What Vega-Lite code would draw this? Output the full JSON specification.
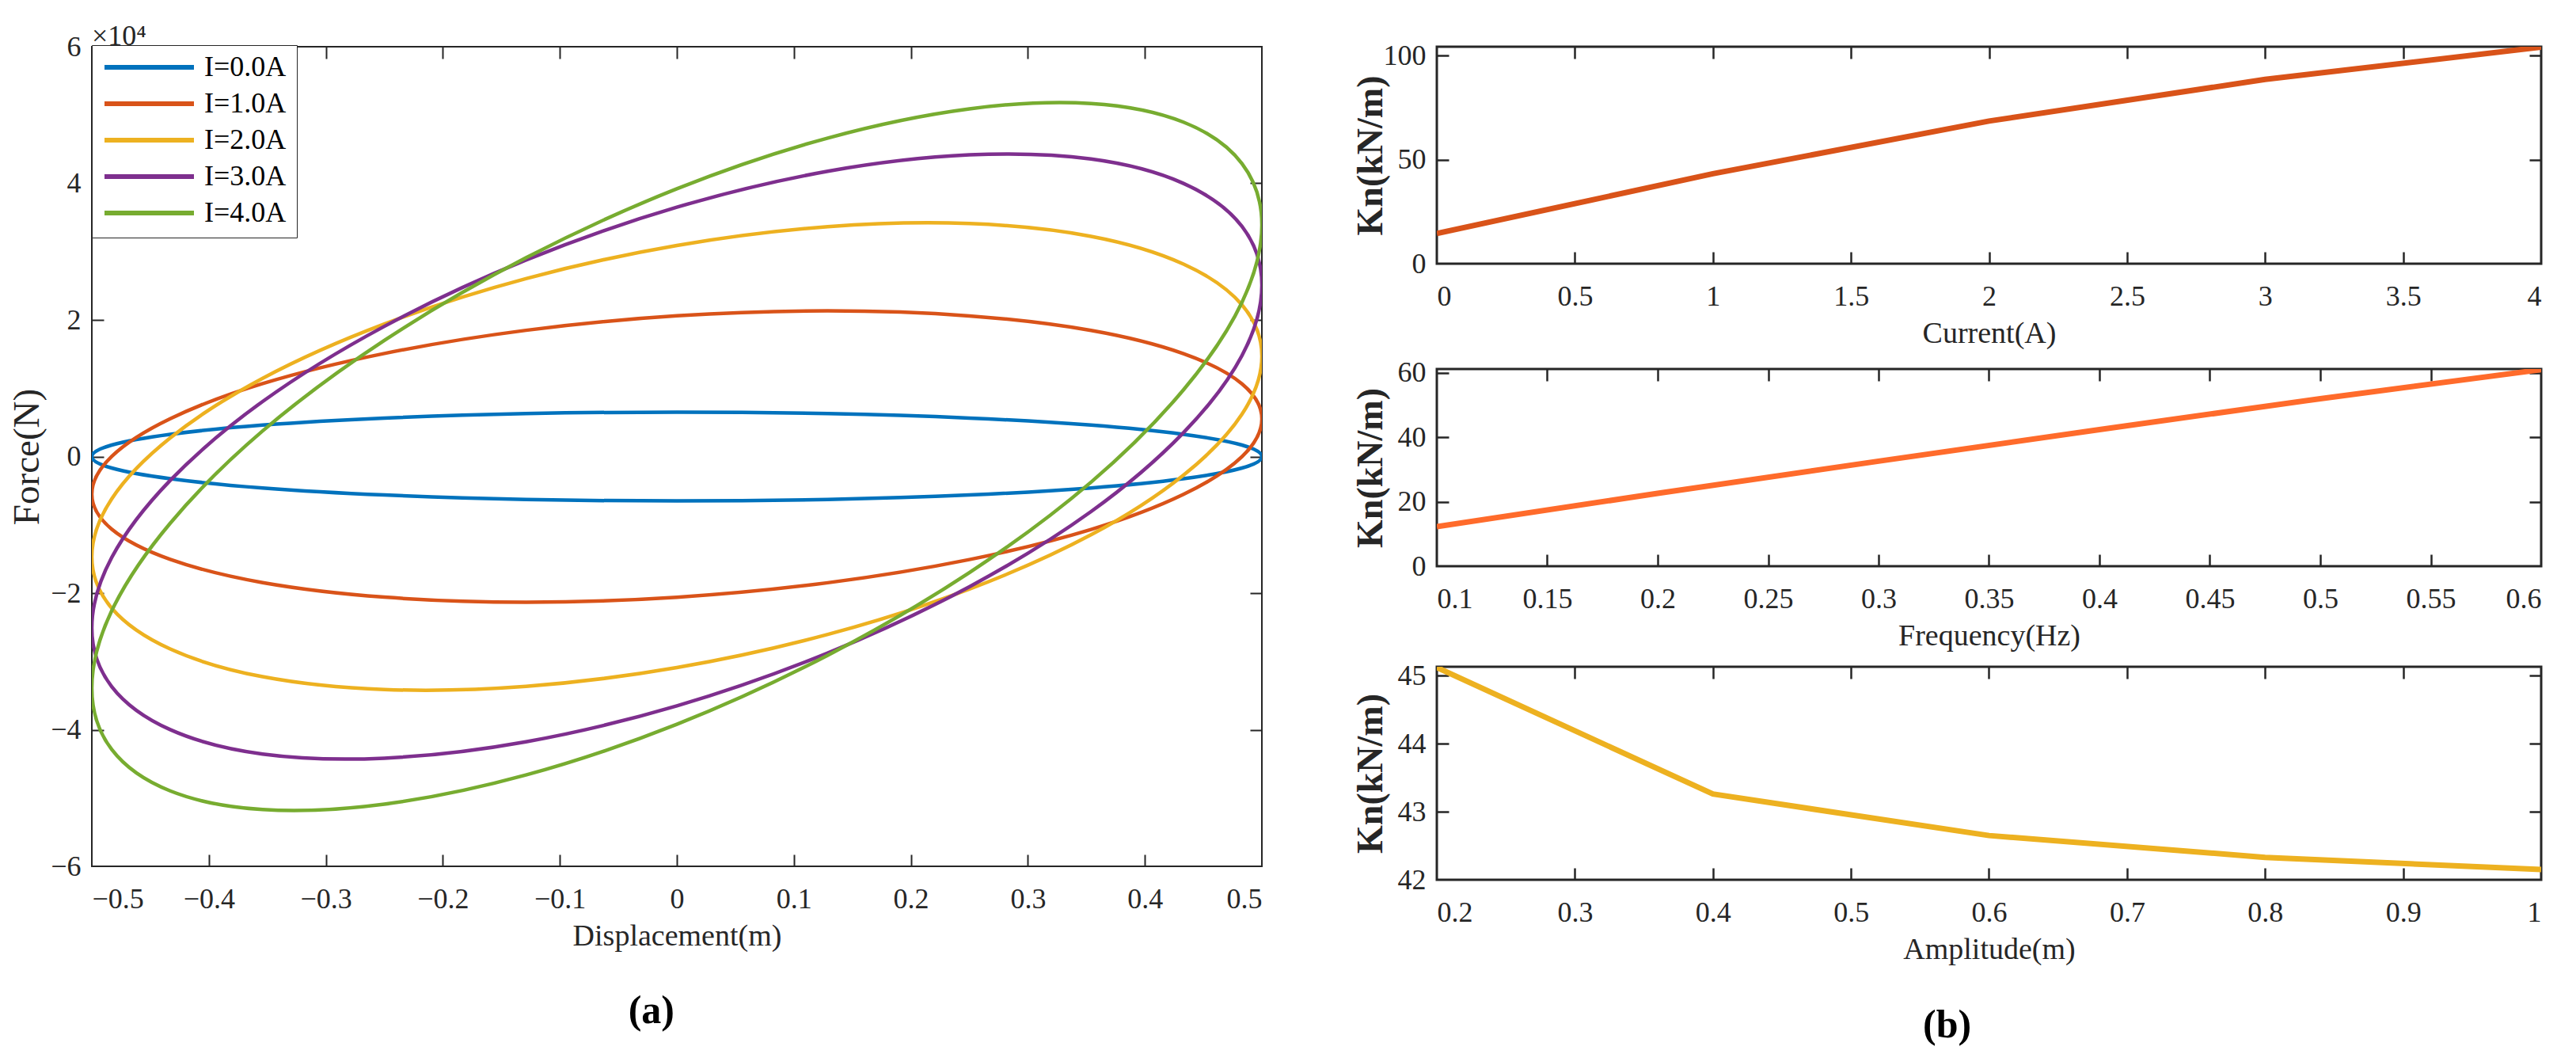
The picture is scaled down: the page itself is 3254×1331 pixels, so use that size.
{
  "$schema": "https://vega.github.io/schema/vega-lite/v6.json",
  "background": "white",
  "padding": {"left": 9, "top": 27, "right": 5, "bottom": 5},
  "config": {
    "font": "Liberation Serif",
    "view": {"stroke": "#262626", "strokeWidth": 2},
    "axis": {"grid": false, "labelFont": "Liberation Serif", "titleFont": "Liberation Serif",
      "labelColor": "#262626", "titleColor": "#262626", "domain": false, "ticks": false, "tickSize": 0,
      "tickColor": "#262626", "tickWidth": 2.5, "titleFontWeight": "normal", "labelFontSize": 36, "titleFontSize": 38, "format": "~r"},
    "title": {"font": "Liberation Serif", "color": "#000000", "fontWeight": "normal"}
  },
  "datasets": {
    "loops": [
      {"s":"I=0.0A","i":0,"d":0.5,"f":0},{"s":"I=0.0A","i":1,"d":0.483,"f":0.168},{"s":"I=0.0A","i":2,"d":0.433,"f":0.325},{"s":"I=0.0A","i":3,"d":0.354,"f":0.46},
      {"s":"I=0.0A","i":4,"d":0.25,"f":0.563},{"s":"I=0.0A","i":5,"d":0.129,"f":0.628},{"s":"I=0.0A","i":6,"d":0,"f":0.65},{"s":"I=0.0A","i":7,"d":-0.129,"f":0.628},
      {"s":"I=0.0A","i":8,"d":-0.25,"f":0.563},{"s":"I=0.0A","i":9,"d":-0.354,"f":0.46},{"s":"I=0.0A","i":10,"d":-0.433,"f":0.325},{"s":"I=0.0A","i":11,"d":-0.483,"f":0.168},
      {"s":"I=0.0A","i":12,"d":-0.5,"f":0},{"s":"I=0.0A","i":13,"d":-0.483,"f":-0.168},{"s":"I=0.0A","i":14,"d":-0.433,"f":-0.325},{"s":"I=0.0A","i":15,"d":-0.354,"f":-0.46},
      {"s":"I=0.0A","i":16,"d":-0.25,"f":-0.563},{"s":"I=0.0A","i":17,"d":-0.129,"f":-0.628},{"s":"I=0.0A","i":18,"d":0,"f":-0.65},{"s":"I=0.0A","i":19,"d":0.129,"f":-0.628},
      {"s":"I=0.0A","i":20,"d":0.25,"f":-0.563},{"s":"I=0.0A","i":21,"d":0.354,"f":-0.46},{"s":"I=0.0A","i":22,"d":0.433,"f":-0.325},{"s":"I=0.0A","i":23,"d":0.483,"f":-0.168},

      {"s":"I=1.0A","i":0,"d":0.5,"f":0.55},{"s":"I=1.0A","i":1,"d":0.483,"f":1.064},{"s":"I=1.0A","i":2,"d":0.433,"f":1.506},{"s":"I=1.0A","i":3,"d":0.354,"f":1.846},
      {"s":"I=1.0A","i":4,"d":0.25,"f":2.059},{"s":"I=1.0A","i":5,"d":0.129,"f":2.132},{"s":"I=1.0A","i":6,"d":0,"f":2.06},{"s":"I=1.0A","i":7,"d":-0.129,"f":1.848},
      {"s":"I=1.0A","i":8,"d":-0.25,"f":1.509},{"s":"I=1.0A","i":9,"d":-0.354,"f":1.068},{"s":"I=1.0A","i":10,"d":-0.433,"f":0.554},{"s":"I=1.0A","i":11,"d":-0.483,"f":0.002},
      {"s":"I=1.0A","i":12,"d":-0.5,"f":-0.55},{"s":"I=1.0A","i":13,"d":-0.483,"f":-1.064},{"s":"I=1.0A","i":14,"d":-0.433,"f":-1.506},{"s":"I=1.0A","i":15,"d":-0.354,"f":-1.846},
      {"s":"I=1.0A","i":16,"d":-0.25,"f":-2.059},{"s":"I=1.0A","i":17,"d":-0.129,"f":-2.132},{"s":"I=1.0A","i":18,"d":0,"f":-2.06},{"s":"I=1.0A","i":19,"d":0.129,"f":-1.848},
      {"s":"I=1.0A","i":20,"d":0.25,"f":-1.509},{"s":"I=1.0A","i":21,"d":0.354,"f":-1.068},{"s":"I=1.0A","i":22,"d":0.433,"f":-0.554},{"s":"I=1.0A","i":23,"d":0.483,"f":-0.002},

      {"s":"I=2.0A","i":0,"d":0.5,"f":1.47},{"s":"I=2.0A","i":1,"d":0.483,"f":2.22},{"s":"I=2.0A","i":2,"d":0.433,"f":2.818},{"s":"I=2.0A","i":3,"d":0.354,"f":3.224},
      {"s":"I=2.0A","i":4,"d":0.25,"f":3.411},{"s":"I=2.0A","i":5,"d":0.129,"f":3.365},{"s":"I=2.0A","i":6,"d":0,"f":3.09},{"s":"I=2.0A","i":7,"d":-0.129,"f":2.605},
      {"s":"I=2.0A","i":8,"d":-0.25,"f":1.941},{"s":"I=2.0A","i":9,"d":-0.354,"f":1.146},{"s":"I=2.0A","i":10,"d":-0.433,"f":0.272},{"s":"I=2.0A","i":11,"d":-0.483,"f":-0.62},
      {"s":"I=2.0A","i":12,"d":-0.5,"f":-1.47},{"s":"I=2.0A","i":13,"d":-0.483,"f":-2.22},{"s":"I=2.0A","i":14,"d":-0.433,"f":-2.818},{"s":"I=2.0A","i":15,"d":-0.354,"f":-3.224},
      {"s":"I=2.0A","i":16,"d":-0.25,"f":-3.411},{"s":"I=2.0A","i":17,"d":-0.129,"f":-3.365},{"s":"I=2.0A","i":18,"d":0,"f":-3.09},{"s":"I=2.0A","i":19,"d":0.129,"f":-2.605},
      {"s":"I=2.0A","i":20,"d":0.25,"f":-1.941},{"s":"I=2.0A","i":21,"d":0.354,"f":-1.146},{"s":"I=2.0A","i":22,"d":0.433,"f":-0.272},{"s":"I=2.0A","i":23,"d":0.483,"f":0.62},

      {"s":"I=3.0A","i":0,"d":0.5,"f":2.51},{"s":"I=3.0A","i":1,"d":0.483,"f":3.369},{"s":"I=3.0A","i":2,"d":0.433,"f":3.999},{"s":"I=3.0A","i":3,"d":0.354,"f":4.356},
      {"s":"I=3.0A","i":4,"d":0.25,"f":4.416},{"s":"I=3.0A","i":5,"d":0.129,"f":4.176},{"s":"I=3.0A","i":6,"d":0,"f":3.65},{"s":"I=3.0A","i":7,"d":-0.129,"f":2.876},
      {"s":"I=3.0A","i":8,"d":-0.25,"f":1.906},{"s":"I=3.0A","i":9,"d":-0.354,"f":0.806},{"s":"I=3.0A","i":10,"d":-0.433,"f":-0.349},{"s":"I=3.0A","i":11,"d":-0.483,"f":-1.479},
      {"s":"I=3.0A","i":12,"d":-0.5,"f":-2.51},{"s":"I=3.0A","i":13,"d":-0.483,"f":-3.369},{"s":"I=3.0A","i":14,"d":-0.433,"f":-3.999},{"s":"I=3.0A","i":15,"d":-0.354,"f":-4.356},
      {"s":"I=3.0A","i":16,"d":-0.25,"f":-4.416},{"s":"I=3.0A","i":17,"d":-0.129,"f":-4.176},{"s":"I=3.0A","i":18,"d":0,"f":-3.65},{"s":"I=3.0A","i":19,"d":0.129,"f":-2.876},
      {"s":"I=3.0A","i":20,"d":0.25,"f":-1.906},{"s":"I=3.0A","i":21,"d":0.354,"f":-0.806},{"s":"I=3.0A","i":22,"d":0.433,"f":0.349},{"s":"I=3.0A","i":23,"d":0.483,"f":1.479},

      {"s":"I=4.0A","i":0,"d":0.5,"f":3.39},{"s":"I=4.0A","i":1,"d":0.483,"f":4.289},{"s":"I=4.0A","i":2,"d":0.433,"f":4.896},{"s":"I=4.0A","i":3,"d":0.354,"f":5.169},
      {"s":"I=4.0A","i":4,"d":0.25,"f":5.09},{"s":"I=4.0A","i":5,"d":0.129,"f":4.663},{"s":"I=4.0A","i":6,"d":0,"f":3.92},{"s":"I=4.0A","i":7,"d":-0.129,"f":2.909},
      {"s":"I=4.0A","i":8,"d":-0.25,"f":1.7},{"s":"I=4.0A","i":9,"d":-0.354,"f":0.375},{"s":"I=4.0A","i":10,"d":-0.433,"f":-0.976},{"s":"I=4.0A","i":11,"d":-0.483,"f":-2.259},
      {"s":"I=4.0A","i":12,"d":-0.5,"f":-3.39},{"s":"I=4.0A","i":13,"d":-0.483,"f":-4.289},{"s":"I=4.0A","i":14,"d":-0.433,"f":-4.896},{"s":"I=4.0A","i":15,"d":-0.354,"f":-5.169},
      {"s":"I=4.0A","i":16,"d":-0.25,"f":-5.09},{"s":"I=4.0A","i":17,"d":-0.129,"f":-4.663},{"s":"I=4.0A","i":18,"d":0,"f":-3.92},{"s":"I=4.0A","i":19,"d":0.129,"f":-2.909},
      {"s":"I=4.0A","i":20,"d":0.25,"f":-1.7},{"s":"I=4.0A","i":21,"d":0.354,"f":-0.375},{"s":"I=4.0A","i":22,"d":0.433,"f":0.976},{"s":"I=4.0A","i":23,"d":0.483,"f":2.259}
    ],
    "current": [{"x":0,"k":14.5},{"x":1,"k":43.2},{"x":2,"k":68.5},{"x":3,"k":88.5},{"x":4,"k":104}],
    "frequency": [{"x":0.1,"k":12.3},{"x":0.2,"k":22.6},{"x":0.3,"k":32.6},{"x":0.4,"k":42.4},{"x":0.5,"k":52},{"x":0.6,"k":61}],
    "amplitude": [{"x":0.2,"k":45.12},{"x":0.4,"k":43.26},{"x":0.6,"k":42.65},{"x":0.8,"k":42.33},{"x":1.0,"k":42.15}]
  },
  "spacing": 110,
  "hconcat": [
    {
      "title": {"text": "(a)", "orient": "bottom", "anchor": "middle", "fontSize": 50, "fontWeight": "bold", "offset": 50, "dx": 20},
      "vconcat": [
        {
          "width": 1478,
          "height": 1035,
          "title": {"text": "×10⁴", "anchor": "start", "frame": "group", "fontSize": 36, "offset": -24, "color": "#262626"},
          "data": {"name": "loops"},
          "layer": [
            {
              "mark": {"type": "line", "interpolate": "cardinal-closed", "strokeWidth": 4.5, "clip": true},
              "encoding": {
                "x": {"field": "d", "type": "quantitative", "scale": {"domain": [-0.5, 0.5], "nice": false, "zero": false},
                  "axis": {"values": [-0.5,-0.4,-0.3,-0.2,-0.1,0,0.1,0.2,0.3,0.4,0.5], "labelPadding": 24, "title": "Displacement(m)", "titlePadding": 10}},
                "y": {"field": "f", "type": "quantitative", "scale": {"domain": [-6, 6], "nice": false},
                  "axis": {"values": [-6,-4,-2,0,2,4,6], "labelPadding": 14, "title": "Force(N)", "titleFontSize": 47, "titlePadding": 5}},
                "color": {"field": "s", "type": "nominal",
                  "scale": {"domain": ["I=0.0A","I=1.0A","I=2.0A","I=3.0A","I=4.0A"], "range": ["#0072BD","#D95319","#EDB120","#7E2F8E","#77AC30"]},
                  "legend": {"orient": "none", "legendX": 0, "legendY": -2, "title": null, "fillColor": "white", "strokeColor": "#262626",
                    "padding": 13, "symbolType": "stroke", "symbolSize": 12769, "symbolStrokeWidth": 6,
                    "clipHeight": 30, "rowPadding": 10, "labelFont": "Liberation Serif", "labelFontSize": 36, "labelColor": "#000000",
                    "labelOffset": 10, "labelLimit": 0}},
                "order": {"field": "i", "type": "quantitative"}
              }
            },
            {
              "mark": {"type": "line", "opacity": 0},
              "encoding": {
                "x": {"field": "d", "type": "quantitative", "scale": {"domain": [-0.5, 0.5], "nice": false, "zero": false},
                  "axis": {"orient": "bottom", "offset": -15, "ticks": true, "tickSize": 15, "tickWidth": 2, "labels": false, "title": null,
                    "values": [-0.4,-0.3,-0.2,-0.1,0,0.1,0.2,0.3,0.4]}},
                "y": {"field": "f", "type": "quantitative", "scale": {"domain": [-6, 6], "nice": false},
                  "axis": {"orient": "left", "offset": -15, "ticks": true, "tickSize": 15, "tickWidth": 2, "labels": false, "title": null,
                    "values": [-4,-2,0,2,4]}}
              }
            },
            {
              "mark": {"type": "line", "opacity": 0},
              "encoding": {
                "x": {"field": "d", "type": "quantitative", "scale": {"domain": [-0.5, 0.5], "nice": false, "zero": false},
                  "axis": {"orient": "top", "offset": -15, "ticks": true, "tickSize": 15, "tickWidth": 2, "labels": false, "title": null,
                    "values": [-0.4,-0.3,-0.2,-0.1,0,0.1,0.2,0.3,0.4]}},
                "y": {"field": "f", "type": "quantitative", "scale": {"domain": [-6, 6], "nice": false},
                  "axis": {"orient": "right", "offset": -15, "ticks": true, "tickSize": 15, "tickWidth": 2, "labels": false, "title": null,
                    "values": [-4,-2,0,2,4]}}
              }
            }
          ],
          "resolve": {"axis": {"x": "independent", "y": "independent"}}
        }
      ]
    },
    {
      "title": {"text": "(b)", "orient": "bottom", "anchor": "middle", "fontSize": 50, "fontWeight": "bold", "offset": 50},
      "spacing": 9,
      "vconcat": [
        {
          "width": 1395,
          "height": 274,
          "view": {"stroke": "#262626", "strokeWidth": 3},
          "data": {"name": "current"},
          "layer": [
            {
              "mark": {"type": "line", "color": "#D95319", "strokeWidth": 7, "clip": true},
              "encoding": {
                "x": {"field": "x", "type": "quantitative", "scale": {"domain": [0, 4], "nice": false},
                  "axis": {"values": [0,0.5,1,1.5,2,2.5,3,3.5,4], "labelPadding": 24, "title": "Current(A)", "titlePadding": 10}},
                "y": {"field": "k", "type": "quantitative", "scale": {"domain": [0, 104.2], "nice": false},
                  "axis": {"values": [0,50,100], "labelPadding": 14, "title": "Kn(kN/m)", "titleFontSize": 46, "titleFontWeight": "bold", "titleX": -60}}
              }
            },
            {
              "mark": {"type": "line", "opacity": 0},
              "encoding": {
                "x": {"field": "x", "type": "quantitative", "scale": {"domain": [0, 4], "nice": false},
                  "axis": {"orient": "bottom", "offset": -15, "ticks": true, "tickSize": 15, "labels": false, "title": null, "values": [0.5,1,1.5,2,2.5,3,3.5]}},
                "y": {"field": "k", "type": "quantitative", "scale": {"domain": [0, 104.2], "nice": false},
                  "axis": {"orient": "left", "offset": -15, "ticks": true, "tickSize": 15, "labels": false, "title": null, "values": [50,100]}}
              }
            },
            {
              "mark": {"type": "line", "opacity": 0},
              "encoding": {
                "x": {"field": "x", "type": "quantitative", "scale": {"domain": [0, 4], "nice": false},
                  "axis": {"orient": "top", "offset": -15, "ticks": true, "tickSize": 15, "labels": false, "title": null, "values": [0.5,1,1.5,2,2.5,3,3.5]}},
                "y": {"field": "k", "type": "quantitative", "scale": {"domain": [0, 104.2], "nice": false},
                  "axis": {"orient": "right", "offset": -15, "ticks": true, "tickSize": 15, "labels": false, "title": null, "values": [50,100]}}
              }
            }
          ],
          "resolve": {"axis": {"x": "independent", "y": "independent"}}
        },
        {
          "width": 1395,
          "height": 249,
          "view": {"stroke": "#262626", "strokeWidth": 3},
          "data": {"name": "frequency"},
          "layer": [
            {
              "mark": {"type": "line", "color": "#FF6B2B", "strokeWidth": 7, "clip": true},
              "encoding": {
                "x": {"field": "x", "type": "quantitative", "scale": {"domain": [0.1, 0.6], "nice": false, "zero": false},
                  "axis": {"values": [0.1,0.15,0.2,0.25,0.3,0.35,0.4,0.45,0.5,0.55,0.6], "labelPadding": 24, "title": "Frequency(Hz)", "titlePadding": 10}},
                "y": {"field": "k", "type": "quantitative", "scale": {"domain": [0, 61.2], "nice": false},
                  "axis": {"values": [0,20,40,60], "labelPadding": 14, "title": "Kn(kN/m)", "titleFontSize": 46, "titleFontWeight": "bold", "titleX": -60}}
              }
            },
            {
              "mark": {"type": "line", "opacity": 0},
              "encoding": {
                "x": {"field": "x", "type": "quantitative", "scale": {"domain": [0.1, 0.6], "nice": false, "zero": false},
                  "axis": {"orient": "bottom", "offset": -15, "ticks": true, "tickSize": 15, "labels": false, "title": null, "values": [0.15,0.2,0.25,0.3,0.35,0.4,0.45,0.5,0.55]}},
                "y": {"field": "k", "type": "quantitative", "scale": {"domain": [0, 61.2], "nice": false},
                  "axis": {"orient": "left", "offset": -15, "ticks": true, "tickSize": 15, "labels": false, "title": null, "values": [20,40,60]}}
              }
            },
            {
              "mark": {"type": "line", "opacity": 0},
              "encoding": {
                "x": {"field": "x", "type": "quantitative", "scale": {"domain": [0.1, 0.6], "nice": false, "zero": false},
                  "axis": {"orient": "top", "offset": -15, "ticks": true, "tickSize": 15, "labels": false, "title": null, "values": [0.15,0.2,0.25,0.3,0.35,0.4,0.45,0.5,0.55]}},
                "y": {"field": "k", "type": "quantitative", "scale": {"domain": [0, 61.2], "nice": false},
                  "axis": {"orient": "right", "offset": -15, "ticks": true, "tickSize": 15, "labels": false, "title": null, "values": [20,40,60]}}
              }
            }
          ],
          "resolve": {"axis": {"x": "independent", "y": "independent"}}
        },
        {
          "width": 1395,
          "height": 269,
          "view": {"stroke": "#262626", "strokeWidth": 3},
          "data": {"name": "amplitude"},
          "layer": [
            {
              "mark": {"type": "line", "color": "#EDB120", "strokeWidth": 7, "clip": true},
              "encoding": {
                "x": {"field": "x", "type": "quantitative", "scale": {"domain": [0.2, 1], "nice": false, "zero": false},
                  "axis": {"values": [0.2,0.3,0.4,0.5,0.6,0.7,0.8,0.9,1], "labelPadding": 24, "title": "Amplitude(m)", "titlePadding": 10}},
                "y": {"field": "k", "type": "quantitative", "scale": {"domain": [42, 45.13], "nice": false, "zero": false},
                  "axis": {"values": [42,43,44,45], "labelPadding": 14, "title": "Kn(kN/m)", "titleFontSize": 46, "titleFontWeight": "bold", "titleX": -60}}
              }
            },
            {
              "mark": {"type": "line", "opacity": 0},
              "encoding": {
                "x": {"field": "x", "type": "quantitative", "scale": {"domain": [0.2, 1], "nice": false, "zero": false},
                  "axis": {"orient": "bottom", "offset": -15, "ticks": true, "tickSize": 15, "labels": false, "title": null, "values": [0.3,0.4,0.5,0.6,0.7,0.8,0.9]}},
                "y": {"field": "k", "type": "quantitative", "scale": {"domain": [42, 45.13], "nice": false, "zero": false},
                  "axis": {"orient": "left", "offset": -15, "ticks": true, "tickSize": 15, "labels": false, "title": null, "values": [43,44,45]}}
              }
            },
            {
              "mark": {"type": "line", "opacity": 0},
              "encoding": {
                "x": {"field": "x", "type": "quantitative", "scale": {"domain": [0.2, 1], "nice": false, "zero": false},
                  "axis": {"orient": "top", "offset": -15, "ticks": true, "tickSize": 15, "labels": false, "title": null, "values": [0.3,0.4,0.5,0.6,0.7,0.8,0.9]}},
                "y": {"field": "k", "type": "quantitative", "scale": {"domain": [42, 45.13], "nice": false, "zero": false},
                  "axis": {"orient": "right", "offset": -15, "ticks": true, "tickSize": 15, "labels": false, "title": null, "values": [43,44,45]}}
              }
            }
          ],
          "resolve": {"axis": {"x": "independent", "y": "independent"}}
        }
      ]
    }
  ]
}
